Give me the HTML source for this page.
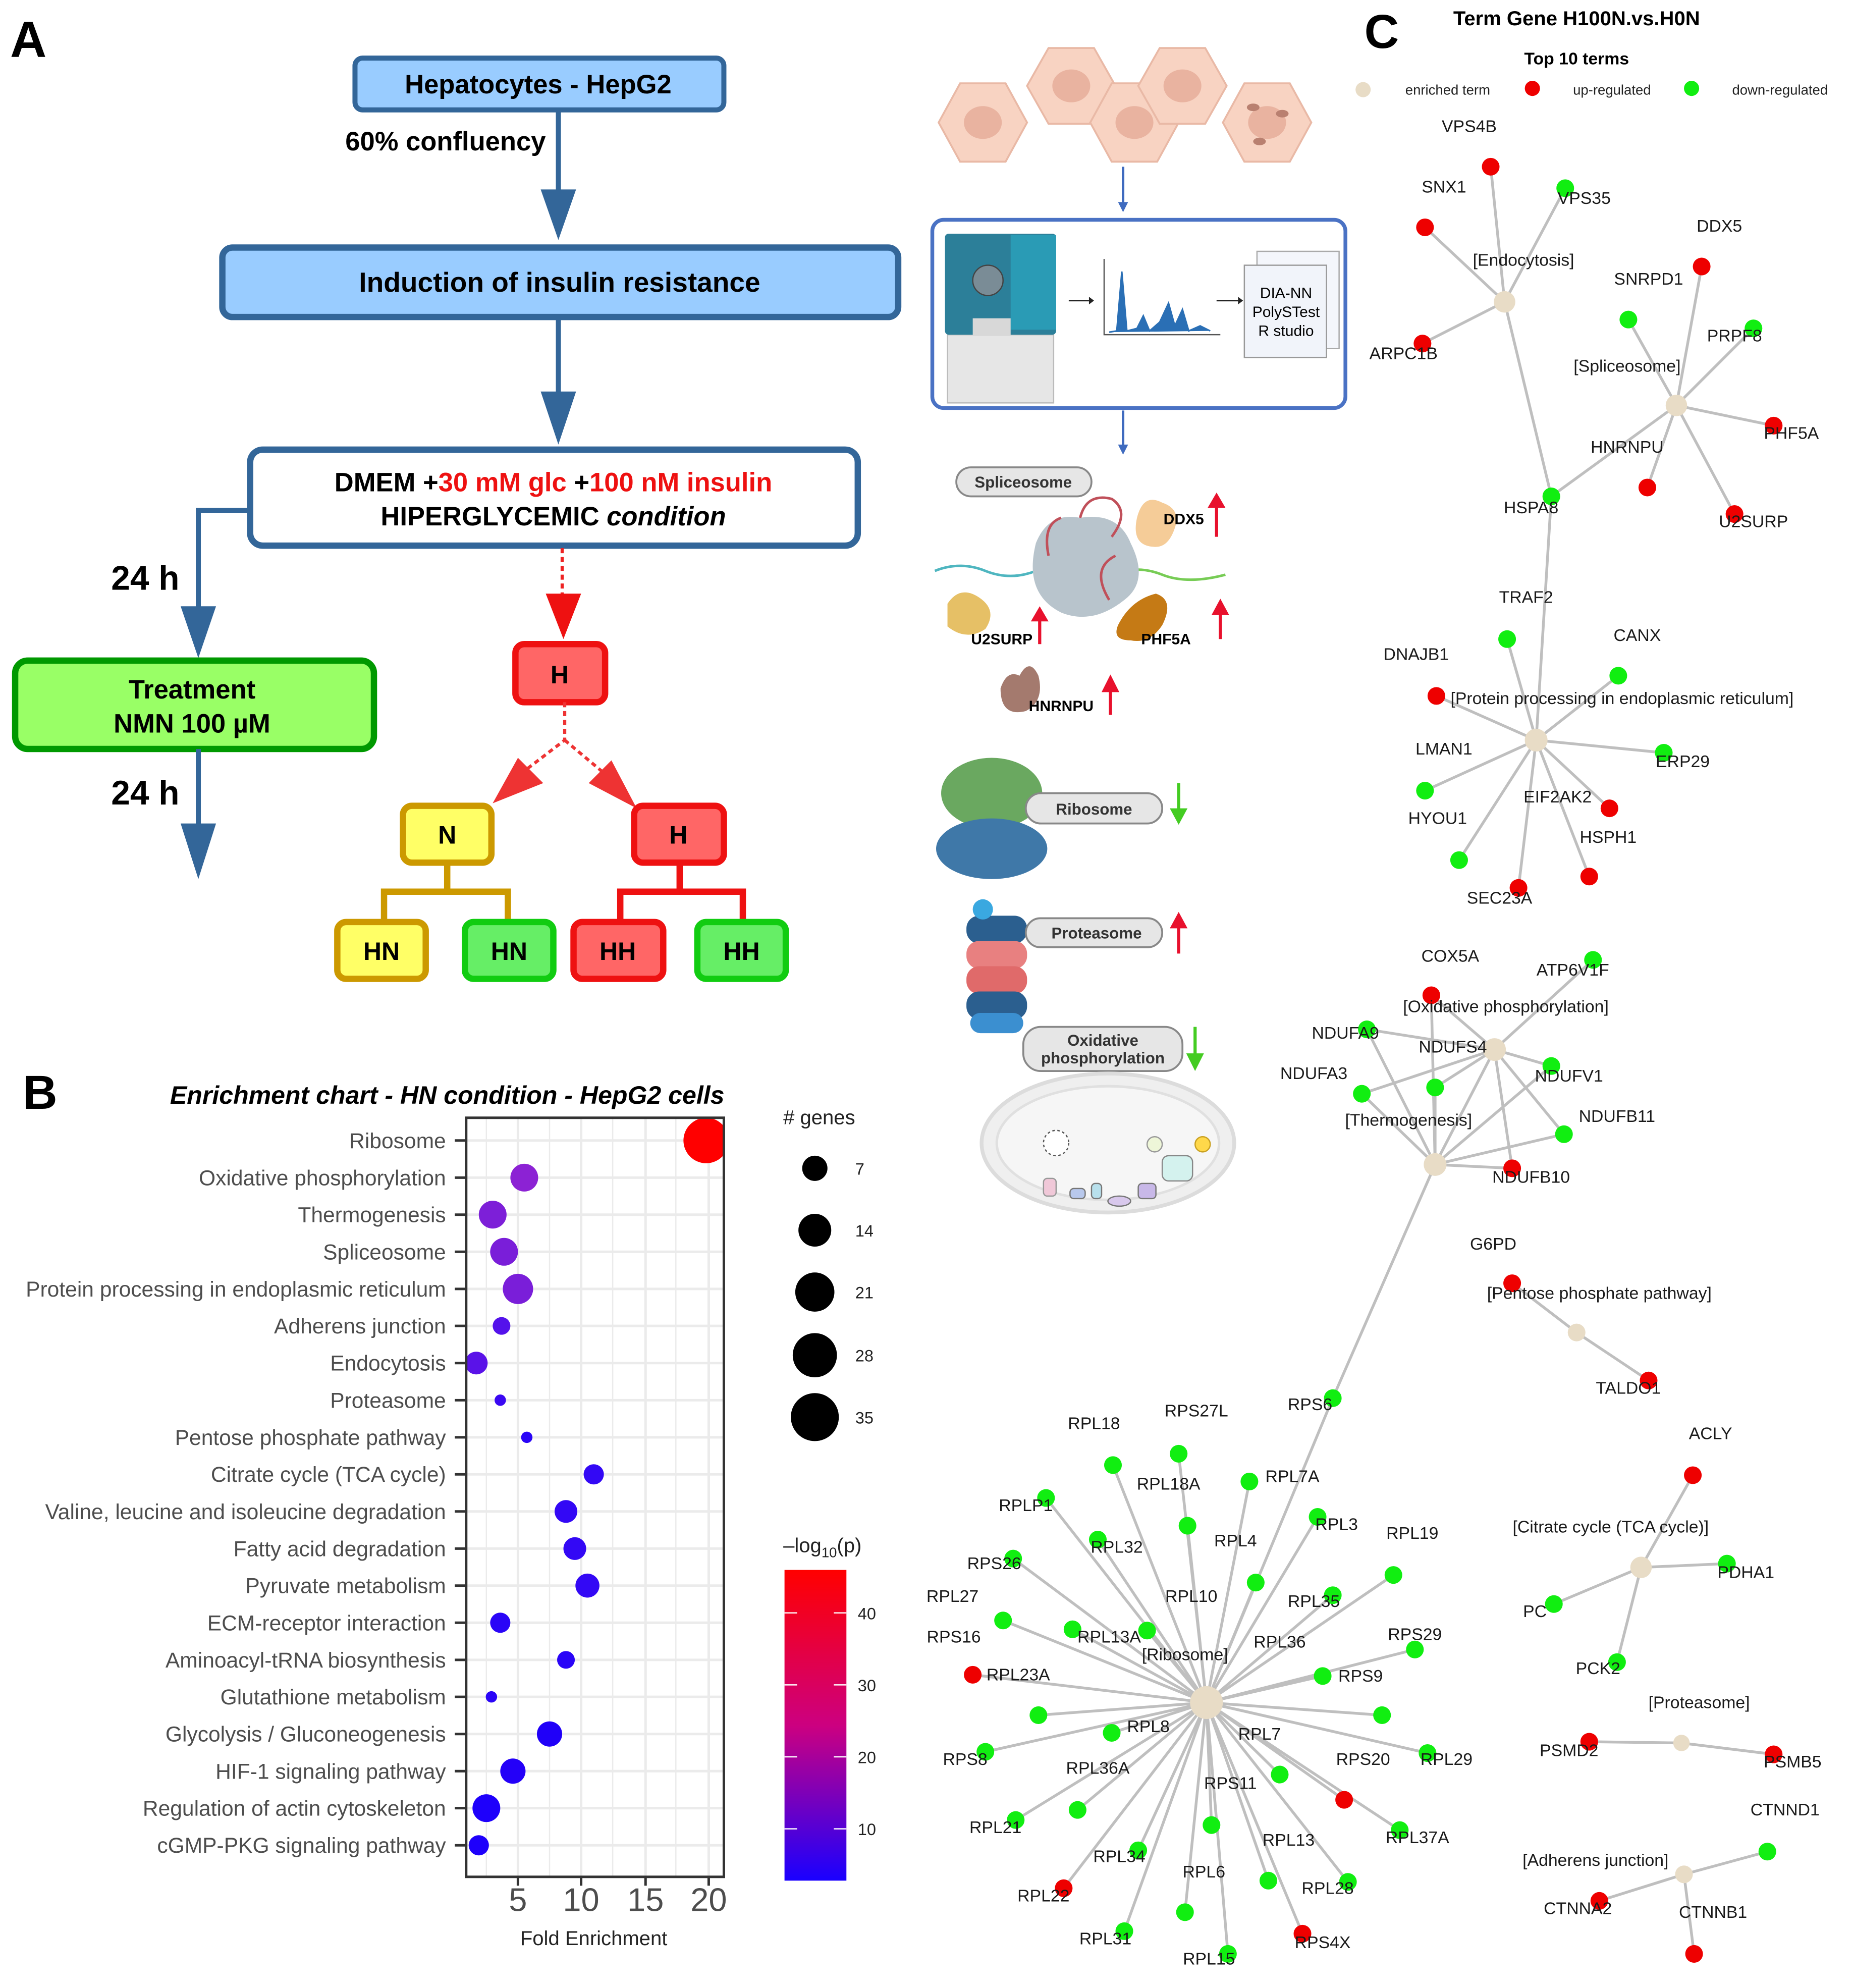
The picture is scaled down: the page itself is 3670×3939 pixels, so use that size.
<!DOCTYPE html>
<html><head><meta charset="utf-8"><style>
html,body{margin:0;padding:0;background:#fff}
svg{display:block}
text{font-family:"Liberation Sans",Arial,sans-serif}
</style></head><body>
<svg width="3670" height="3939" viewBox="0 0 1466 1574" preserveAspectRatio="none" xmlns="http://www.w3.org/2000/svg">
<defs>
<linearGradient id="cb" x1="0" y1="0" x2="0" y2="1">
<stop offset="0" stop-color="#ff0000"/><stop offset="0.5" stop-color="#cc0080"/><stop offset="1" stop-color="#1a00ff"/>
</linearGradient>
</defs>
<rect width="1466" height="1574" fill="#fff"/>

<!-- ===== PANEL A ===== -->
<text x="8" y="45" font-size="40" font-weight="bold">A</text>
<rect x="281" y="46" width="292" height="41" rx="6" fill="#99ccff" stroke="#336699" stroke-width="4"/>
<text x="426" y="74" font-size="21" font-weight="bold" text-anchor="middle">Hepatocytes - HepG2</text>
<text x="432" y="119" font-size="21" font-weight="bold" text-anchor="end">60%  confluency</text>
<line x1="442" y1="87" x2="442" y2="152" stroke="#336699" stroke-width="4"/>
<polygon points="428,150 456,150 442,190" fill="#336699"/>
<rect x="176" y="196" width="535" height="55" rx="8" fill="#99ccff" stroke="#336699" stroke-width="5"/>
<text x="443" y="231" font-size="22" font-weight="bold" text-anchor="middle">Induction of insulin resistance</text>
<line x1="442" y1="251" x2="442" y2="312" stroke="#336699" stroke-width="4"/>
<polygon points="428,310 456,310 442,352" fill="#336699"/>
<rect x="198" y="356" width="481" height="76" rx="10" fill="#fff" stroke="#336699" stroke-width="5"/>
<text x="438" y="389" font-size="21" font-weight="bold" text-anchor="middle">DMEM +<tspan fill="#ee1111">30 mM glc </tspan>+<tspan fill="#ee1111">100 nM insulin</tspan></text>
<text x="438" y="416" font-size="21" font-weight="bold" text-anchor="middle">HIPERGLYCEMIC <tspan font-style="italic">condition</tspan></text>
<polyline points="198,404 157,404 157,482" fill="none" stroke="#336699" stroke-width="4"/>
<polygon points="143,480 171,480 157,521" fill="#336699"/>
<text x="88" y="467" font-size="27" font-weight="bold">24 h</text>
<rect x="12" y="523" width="284" height="70" rx="10" fill="#99ff66" stroke="#009900" stroke-width="5"/>
<text x="152" y="553" font-size="21" font-weight="bold" text-anchor="middle">Treatment</text>
<text x="152" y="580" font-size="21" font-weight="bold" text-anchor="middle">NMN 100 µM</text>
<line x1="157" y1="593" x2="157" y2="655" stroke="#336699" stroke-width="4"/>
<polygon points="143,652 171,652 157,696" fill="#336699"/>
<text x="88" y="637" font-size="27" font-weight="bold">24 h</text>
<line x1="445" y1="434" x2="445" y2="472" stroke="#ee2222" stroke-width="2.5" stroke-dasharray="4,3"/>
<polygon points="432,470 460,470 446,506" fill="#ee1111"/>
<rect x="408" y="510" width="71" height="46" rx="7" fill="#ff6666" stroke="#ee1111" stroke-width="5"/>
<text x="443" y="541" font-size="20" font-weight="bold" text-anchor="middle">H</text>
<polyline points="447,556 447,586 413,612" fill="none" stroke="#ee3333" stroke-width="2.5" stroke-dasharray="4,3"/>
<polyline points="447,586 478,612" fill="none" stroke="#ee3333" stroke-width="2.5" stroke-dasharray="4,3"/>
<polygon points="390,636 410,600 430,620" fill="#ee3333"/>
<polygon points="504,640 466,620 484,602" fill="#ee3333"/>
<rect x="319" y="638" width="70" height="45" rx="7" fill="#ffff66" stroke="#cc9900" stroke-width="5"/>
<text x="354" y="668" font-size="20" font-weight="bold" text-anchor="middle">N</text>
<rect x="502" y="638" width="71" height="45" rx="7" fill="#ff6666" stroke="#ee1111" stroke-width="5"/>
<text x="537" y="668" font-size="20" font-weight="bold" text-anchor="middle">H</text>
<polyline points="354,683 354,706 304,706 304,730" fill="none" stroke="#cc9900" stroke-width="5"/>
<polyline points="354,706 402,706 402,730" fill="none" stroke="#cc9900" stroke-width="5"/>
<polyline points="538,683 538,706 491,706 491,730" fill="none" stroke="#ee1111" stroke-width="5"/>
<polyline points="538,706 588,706 588,730" fill="none" stroke="#ee1111" stroke-width="5"/>
<rect x="267" y="730" width="70" height="45" rx="7" fill="#ffff66" stroke="#cc9900" stroke-width="5"/>
<text x="302" y="760" font-size="20" font-weight="bold" text-anchor="middle">HN</text>
<rect x="368" y="730" width="70" height="45" rx="7" fill="#66ee66" stroke="#11cc11" stroke-width="5"/>
<text x="403" y="760" font-size="20" font-weight="bold" text-anchor="middle">HN</text>
<rect x="454" y="730" width="71" height="45" rx="7" fill="#ff6666" stroke="#ee1111" stroke-width="5"/>
<text x="489" y="760" font-size="20" font-weight="bold" text-anchor="middle">HH</text>
<rect x="552" y="730" width="70" height="45" rx="7" fill="#66ee66" stroke="#11cc11" stroke-width="5"/>
<text x="587" y="760" font-size="20" font-weight="bold" text-anchor="middle">HH</text>

<!-- ===== MIDDLE ILLUSTRATIONS ===== -->
<g fill="#f8d3c2" stroke="#e9b9a6" stroke-width="1.5">
<polygon points="760,66 796,66 813,97 796,128 760,128 743,97"/>
<polygon points="830,38 866,38 883,68 866,98 830,98 813,68"/>
<polygon points="880,66 916,66 933,97 916,128 880,128 863,97"/>
<polygon points="918,38 954,38 971,68 954,98 918,98 901,68"/>
<polygon points="985,66 1021,66 1038,97 1021,128 985,128 968,97"/>
</g>
<g fill="#e9b3a0">
<ellipse cx="778" cy="97" rx="15" ry="13"/><ellipse cx="848" cy="68" rx="15" ry="13"/>
<ellipse cx="898" cy="97" rx="15" ry="13"/><ellipse cx="936" cy="68" rx="15" ry="13"/>
<ellipse cx="1003" cy="97" rx="15" ry="13"/>
</g>
<g fill="#b98070"><ellipse cx="992" cy="85" rx="5" ry="3"/><ellipse cx="1015" cy="90" rx="5" ry="3"/><ellipse cx="997" cy="112" rx="5" ry="3"/></g>
<line x1="889" y1="132" x2="889" y2="164" stroke="#3f6bbf" stroke-width="2"/>
<polygon points="885,160 893,160 889,168" fill="#3f6bbf"/>
<rect x="738" y="174" width="327" height="149" rx="9" fill="#fff" stroke="#4a72c4" stroke-width="3"/>
<rect x="750" y="265" width="84" height="54" fill="#e6e6e6" stroke="#bbb"/>
<rect x="748" y="185" width="88" height="80" rx="3" fill="#2c7f99"/>
<rect x="800" y="186" width="36" height="75" fill="#2a9bb5"/>
<circle cx="782" cy="222" r="12" fill="#7a8c96" stroke="#444"/>
<rect x="770" y="252" width="30" height="14" fill="#d8d8d8"/>
<polyline points="874,205 874,265 966,265" fill="none" stroke="#555" stroke-width="1"/>
<polyline points="878,263 884,262 888,215 892,262 900,260 905,250 910,262 918,255 925,240 930,258 936,245 941,262 950,258 958,262" fill="#2a6fb5" stroke="#2a6fb5" stroke-width="1.2"/>
<line x1="846" y1="238" x2="862" y2="238" stroke="#222" stroke-width="1.2"/>
<polygon points="862,235 866,238 862,241" fill="#222"/>
<line x1="963" y1="238" x2="980" y2="238" stroke="#222" stroke-width="1.2"/>
<polygon points="980,235 984,238 980,241" fill="#222"/>
<rect x="995" y="199" width="65" height="77" fill="#f4f6fb" stroke="#aaa"/>
<rect x="985" y="210" width="65" height="73" fill="#f1f4fa" stroke="#999"/>
<text x="1018" y="236" font-size="12" text-anchor="middle">DIA-NN</text>
<text x="1018" y="251" font-size="12" text-anchor="middle">PolySTest</text>
<text x="1018" y="266" font-size="12" text-anchor="middle">R studio</text>
<line x1="889" y1="325" x2="889" y2="355" stroke="#3f6bbf" stroke-width="2"/>
<polygon points="885,352 893,352 889,360" fill="#3f6bbf"/>

<rect x="757" y="370" width="107" height="23" rx="11.5" fill="#e6e6e6" stroke="#888" stroke-width="1.5"/>
<text x="810" y="386" font-size="12.5" font-weight="bold" fill="#333" text-anchor="middle">Spliceosome</text>
<path d="M740,452 q20,-8 40,0 t40,0 t40,0" fill="none" stroke="#4fb6c0" stroke-width="2"/>
<path d="M880,455 q20,-8 40,0 t50,0" fill="none" stroke="#77cc55" stroke-width="2"/>
<path d="M820,430 q10,-25 35,-20 q30,-5 40,20 q15,30 -5,45 q-25,20 -50,10 q-30,-15 -20,-55z" fill="#b8c4cc"/>
<path d="M830,440 q-5,-25 10,-30 M855,410 q5,-20 25,-15 q15,10 0,30 M883,440 q-20,10 -5,35" fill="none" stroke="#c0505a" stroke-width="2"/>
<path d="M900,410 q5,-20 20,-12 q15,5 10,20 q-5,15 -15,15 q-20,0 -15,-23z" fill="#f5cc98"/>
<path d="M750,478 q10,-15 25,-5 q15,10 5,25 q-15,10 -30,-2z" fill="#e6c066"/>
<path d="M885,495 q10,-20 30,-25 q15,5 5,25 q-10,15 -25,12 q-15,0 -10,-12z" fill="#c57a15"/>
<path d="M792,545 q5,-15 15,-10 q8,-15 15,0 q5,20 -10,28 q-20,5 -20,-18z" fill="#a47a6e"/>
<text x="937" y="415" font-size="12" font-weight="bold" text-anchor="middle">DDX5</text>
<text x="793" y="510" font-size="12" font-weight="bold" text-anchor="middle">U2SURP</text>
<text x="923" y="510" font-size="12" font-weight="bold" text-anchor="middle">PHF5A</text>
<text x="840" y="563" font-size="12" font-weight="bold" text-anchor="middle">HNRNPU</text>
<g stroke="#e8112d" stroke-width="2.5" fill="#e8112d">
<line x1="963" y1="425" x2="963" y2="400"/><polygon points="956,402 970,402 963,390" stroke="none"/>
<line x1="823" y1="510" x2="823" y2="490"/><polygon points="816,492 830,492 823,480" stroke="none"/>
<line x1="966" y1="506" x2="966" y2="485"/><polygon points="959,487 973,487 966,474" stroke="none"/>
<line x1="879" y1="566" x2="879" y2="546"/><polygon points="872,548 886,548 879,534" stroke="none"/>
</g>
<ellipse cx="785" cy="628" rx="40" ry="28" fill="#6aa860"/>
<ellipse cx="785" cy="672" rx="44" ry="24" fill="#3f78a8"/>
<rect x="812" y="628" width="108" height="24" rx="12" fill="#e6e6e6" stroke="#888" stroke-width="1.5"/>
<text x="866" y="645" font-size="12.5" font-weight="bold" fill="#333" text-anchor="middle">Ribosome</text>
<line x1="933" y1="620" x2="933" y2="643" stroke="#44cc22" stroke-width="2.5"/><polygon points="926,640 940,640 933,653" fill="#44cc22"/>
<g>
<rect x="765" y="725" width="48" height="22" rx="10" fill="#2b5f8f"/>
<rect x="765" y="745" width="48" height="22" rx="10" fill="#e88080"/>
<rect x="765" y="765" width="48" height="22" rx="10" fill="#e06a6a"/>
<rect x="765" y="785" width="48" height="22" rx="10" fill="#2b5f8f"/>
<rect x="768" y="802" width="42" height="16" rx="8" fill="#3b8fd0"/>
<circle cx="778" cy="720" r="8" fill="#3aa8e0"/>
</g>
<rect x="812" y="727" width="108" height="23" rx="11.5" fill="#e6e6e6" stroke="#888" stroke-width="1.5"/>
<text x="868" y="743" font-size="12.5" font-weight="bold" fill="#333" text-anchor="middle">Proteasome</text>
<line x1="933" y1="755" x2="933" y2="733" stroke="#e8112d" stroke-width="2.5"/><polygon points="926,735 940,735 933,722" fill="#e8112d"/>
<rect x="810" y="813" width="126" height="35" rx="14" fill="#e6e6e6" stroke="#888" stroke-width="1.5"/>
<text x="873" y="828" font-size="12.5" font-weight="bold" fill="#333" text-anchor="middle">Oxidative</text>
<text x="873" y="842" font-size="12.5" font-weight="bold" fill="#333" text-anchor="middle">phosphorylation</text>
<line x1="946" y1="813" x2="946" y2="837" stroke="#44cc22" stroke-width="2.5"/><polygon points="939,834 953,834 946,848" fill="#44cc22"/>
<ellipse cx="877" cy="905" rx="100" ry="55" fill="#efefef" stroke="#dcdcdc" stroke-width="3"/>
<ellipse cx="877" cy="905" rx="88" ry="45" fill="#f6f6f6" stroke="#e0e0e0" stroke-width="2"/>
<circle cx="836" cy="905" r="10" fill="#fff" stroke="#555" stroke-dasharray="2,2"/>
<circle cx="914" cy="906" r="6" fill="#eef6d8" stroke="#999"/>
<circle cx="952" cy="906" r="6" fill="#ffd84a" stroke="#c9a020"/>
<rect x="920" y="915" width="24" height="20" rx="5" fill="#d4f2ee" stroke="#888"/>
<rect x="826" y="933" width="10" height="14" rx="3" fill="#f0c8d8" stroke="#999"/>
<rect x="847" y="941" width="12" height="8" rx="3" fill="#b8c8ec" stroke="#777"/>
<rect x="864" y="937" width="8" height="12" rx="3" fill="#b8e0ec" stroke="#777"/>
<ellipse cx="886" cy="951" rx="9" ry="4" fill="#d8c8ec" stroke="#777"/>
<rect x="901" y="937" width="14" height="12" rx="3" fill="#c8b8e8" stroke="#777"/>

<!-- ===== PANEL B ===== -->
<text x="18" y="878" font-size="38" font-weight="bold">B</text>
<text x="354" y="874" font-size="20" font-weight="bold" font-style="italic" text-anchor="middle">Enrichment chart - HN condition - HepG2 cells</text>
<g stroke="#ebebeb" stroke-width="1">
<line x1="385" y1="885" x2="385" y2="1486"/><line x1="435" y1="885" x2="435" y2="1486"/><line x1="485" y1="885" x2="485" y2="1486"/><line x1="535" y1="885" x2="535" y2="1486"/>
</g>
<g stroke="#ebebeb" stroke-width="2">
<line x1="410" y1="885" x2="410" y2="1486"/><line x1="460" y1="885" x2="460" y2="1486"/><line x1="511" y1="885" x2="511" y2="1486"/><line x1="561" y1="885" x2="561" y2="1486"/>
</g>
<g stroke="#ebebeb" stroke-width="2">
<line x1="369" y1="903" x2="573" y2="903"/><line x1="369" y1="932.4" x2="573" y2="932.4"/><line x1="369" y1="961.7" x2="573" y2="961.7"/><line x1="369" y1="991.1" x2="573" y2="991.1"/><line x1="369" y1="1020.5" x2="573" y2="1020.5"/><line x1="369" y1="1049.8" x2="573" y2="1049.8"/><line x1="369" y1="1079.2" x2="573" y2="1079.2"/><line x1="369" y1="1108.6" x2="573" y2="1108.6"/><line x1="369" y1="1138" x2="573" y2="1138"/><line x1="369" y1="1167.3" x2="573" y2="1167.3"/><line x1="369" y1="1196.7" x2="573" y2="1196.7"/><line x1="369" y1="1226.1" x2="573" y2="1226.1"/><line x1="369" y1="1255.4" x2="573" y2="1255.4"/><line x1="369" y1="1284.8" x2="573" y2="1284.8"/><line x1="369" y1="1314.2" x2="573" y2="1314.2"/><line x1="369" y1="1343.5" x2="573" y2="1343.5"/><line x1="369" y1="1372.9" x2="573" y2="1372.9"/><line x1="369" y1="1402.3" x2="573" y2="1402.3"/><line x1="369" y1="1431.6" x2="573" y2="1431.6"/><line x1="369" y1="1461" x2="573" y2="1461"/>
</g>
<g font-size="17" fill="#4d4d4d" text-anchor="end">
<text x="353" y="909">Ribosome</text><text x="353" y="938.4">Oxidative phosphorylation</text><text x="353" y="967.7">Thermogenesis</text><text x="353" y="997.1">Spliceosome</text><text x="353" y="1026.5">Protein processing in endoplasmic reticulum</text><text x="353" y="1055.8">Adherens junction</text><text x="353" y="1085.2">Endocytosis</text><text x="353" y="1114.6">Proteasome</text><text x="353" y="1144">Pentose phosphate pathway</text><text x="353" y="1173.3">Citrate cycle (TCA cycle)</text><text x="353" y="1202.7">Valine, leucine and isoleucine degradation</text><text x="353" y="1232.1">Fatty acid degradation</text><text x="353" y="1261.4">Pyruvate metabolism</text><text x="353" y="1290.8">ECM-receptor interaction</text><text x="353" y="1320.2">Aminoacyl-tRNA biosynthesis</text><text x="353" y="1349.5">Glutathione metabolism</text><text x="353" y="1378.9">Glycolysis / Gluconeogenesis</text><text x="353" y="1408.3">HIF-1 signaling pathway</text><text x="353" y="1437.6">Regulation of actin cytoskeleton</text><text x="353" y="1467">cGMP-PKG signaling pathway</text>
</g>
<g stroke="#333" stroke-width="2">
<line x1="360" y1="903" x2="369" y2="903"/><line x1="360" y1="932.4" x2="369" y2="932.4"/><line x1="360" y1="961.7" x2="369" y2="961.7"/><line x1="360" y1="991.1" x2="369" y2="991.1"/><line x1="360" y1="1020.5" x2="369" y2="1020.5"/><line x1="360" y1="1049.8" x2="369" y2="1049.8"/><line x1="360" y1="1079.2" x2="369" y2="1079.2"/><line x1="360" y1="1108.6" x2="369" y2="1108.6"/><line x1="360" y1="1138" x2="369" y2="1138"/><line x1="360" y1="1167.3" x2="369" y2="1167.3"/><line x1="360" y1="1196.7" x2="369" y2="1196.7"/><line x1="360" y1="1226.1" x2="369" y2="1226.1"/><line x1="360" y1="1255.4" x2="369" y2="1255.4"/><line x1="360" y1="1284.8" x2="369" y2="1284.8"/><line x1="360" y1="1314.2" x2="369" y2="1314.2"/><line x1="360" y1="1343.5" x2="369" y2="1343.5"/><line x1="360" y1="1372.9" x2="369" y2="1372.9"/><line x1="360" y1="1402.3" x2="369" y2="1402.3"/><line x1="360" y1="1431.6" x2="369" y2="1431.6"/><line x1="360" y1="1461" x2="369" y2="1461"/>
<line x1="410" y1="1486" x2="410" y2="1493"/><line x1="460" y1="1486" x2="460" y2="1493"/><line x1="511" y1="1486" x2="511" y2="1493"/><line x1="561" y1="1486" x2="561" y2="1493"/>
</g>
<clipPath id="pc"><rect x="369" y="885" width="204" height="601"/></clipPath>
<g clip-path="url(#pc)">
<circle cx="559" cy="903" r="18" fill="#ff0000"/>
<circle cx="415" cy="932.4" r="11" fill="#8c22d4"/>
<circle cx="390" cy="961.7" r="11" fill="#7d1fd8"/>
<circle cx="399" cy="991.1" r="11" fill="#7a1ed9"/>
<circle cx="410" cy="1020.5" r="12" fill="#7a1ed9"/>
<circle cx="397" cy="1049.8" r="7" fill="#5412eb"/>
<circle cx="377" cy="1079.2" r="9" fill="#5a12e8"/>
<circle cx="396" cy="1108.6" r="4.5" fill="#3a08f2"/>
<circle cx="417" cy="1138" r="4.5" fill="#2a05f7"/>
<circle cx="470" cy="1167.3" r="8" fill="#3308f5"/>
<circle cx="448" cy="1196.7" r="9" fill="#3308f5"/>
<circle cx="455" cy="1226.1" r="9" fill="#3308f5"/>
<circle cx="465" cy="1255.4" r="9.5" fill="#3308f5"/>
<circle cx="396" cy="1284.8" r="8" fill="#2a05f7"/>
<circle cx="448" cy="1314.2" r="7" fill="#2a05f7"/>
<circle cx="389" cy="1343.5" r="4.5" fill="#2a05f7"/>
<circle cx="435" cy="1372.9" r="10" fill="#2000f8"/>
<circle cx="406" cy="1402.3" r="10" fill="#2400f8"/>
<circle cx="385" cy="1431.6" r="11" fill="#1e00fb"/>
<circle cx="379" cy="1461" r="8" fill="#1e00fb"/>
</g>
<rect x="369" y="885" width="204" height="601" fill="none" stroke="#333" stroke-width="2"/>
<g font-size="26" fill="#4d4d4d" text-anchor="middle">
<text x="410" y="1513">5</text><text x="460" y="1513">10</text><text x="511" y="1513">15</text><text x="561" y="1513">20</text>
</g>
<text x="470" y="1540" font-size="16" fill="#222" text-anchor="middle">Fold Enrichment</text>
<text x="620" y="890" font-size="16" fill="#222"># genes</text>
<circle cx="645" cy="925" r="10" fill="#000"/><circle cx="645" cy="974" r="13" fill="#000"/><circle cx="645" cy="1023" r="15.5" fill="#000"/><circle cx="645" cy="1073" r="17.5" fill="#000"/><circle cx="645" cy="1122" r="19" fill="#000"/>
<g font-size="13" fill="#222"><text x="677" y="930">7</text><text x="677" y="979">14</text><text x="677" y="1028">21</text><text x="677" y="1078">28</text><text x="677" y="1127">35</text></g>
<text x="620" y="1229" font-size="16" fill="#222">–log<tspan font-size="11" dy="4">10</tspan><tspan dy="-4">(p)</tspan></text>
<rect x="621" y="1243" width="49" height="246" fill="url(#cb)"/>
<g stroke="#fff" stroke-width="1"><line x1="621" y1="1277" x2="631" y2="1277"/><line x1="660" y1="1277" x2="670" y2="1277"/><line x1="621" y1="1334" x2="631" y2="1334"/><line x1="660" y1="1334" x2="670" y2="1334"/><line x1="621" y1="1391" x2="631" y2="1391"/><line x1="660" y1="1391" x2="670" y2="1391"/><line x1="621" y1="1448" x2="631" y2="1448"/><line x1="660" y1="1448" x2="670" y2="1448"/></g>
<g font-size="13" fill="#222"><text x="679" y="1282">40</text><text x="679" y="1339">30</text><text x="679" y="1396">20</text><text x="679" y="1453">10</text></g>

<!-- ===== PANEL C ===== -->
<text x="1080" y="38" font-size="38" font-weight="bold">C</text>
<text x="1248" y="20" font-size="16" font-weight="bold" text-anchor="middle">Term Gene  H100N.vs.H0N</text>
<text x="1248" y="51" font-size="13.5" font-weight="bold" text-anchor="middle">Top 10 terms</text>
<circle cx="1079" cy="71" r="6" fill="#e8dcc6"/><text x="1146" y="75" font-size="11" text-anchor="middle" fill="#222">enriched term</text>
<circle cx="1213" cy="70" r="6" fill="#ee0000"/><text x="1276" y="75" font-size="11" text-anchor="middle" fill="#222">up-regulated</text>
<circle cx="1339" cy="70" r="6" fill="#11ee11"/><text x="1409" y="75" font-size="11" text-anchor="middle" fill="#222">down-regulated</text>

<g stroke="#bfbfbf" stroke-width="2.2" fill="none">
<line x1="1191" y1="239" x2="1180" y2="132"/><line x1="1191" y1="239" x2="1128" y2="180"/><line x1="1191" y1="239" x2="1239" y2="149"/><line x1="1191" y1="239" x2="1126" y2="272"/><line x1="1191" y1="239" x2="1228" y2="393"/>
<line x1="1327" y1="321" x2="1347" y2="211"/><line x1="1327" y1="321" x2="1289" y2="253"/><line x1="1327" y1="321" x2="1388" y2="260"/><line x1="1327" y1="321" x2="1404" y2="337"/><line x1="1327" y1="321" x2="1373" y2="407"/><line x1="1327" y1="321" x2="1304" y2="386"/><line x1="1327" y1="321" x2="1228" y2="393"/>
<line x1="1228" y1="393" x2="1216" y2="586"/>
<line x1="1216" y1="586" x2="1193" y2="506"/><line x1="1216" y1="586" x2="1281" y2="535"/><line x1="1216" y1="586" x2="1137" y2="551"/><line x1="1216" y1="586" x2="1317" y2="596"/><line x1="1216" y1="586" x2="1128" y2="626"/><line x1="1216" y1="586" x2="1155" y2="681"/><line x1="1216" y1="586" x2="1202" y2="703"/><line x1="1216" y1="586" x2="1258" y2="694"/><line x1="1216" y1="586" x2="1274" y2="640"/>
<line x1="1183" y1="831" x2="1133" y2="788"/><line x1="1183" y1="831" x2="1261" y2="760"/><line x1="1183" y1="831" x2="1082" y2="815"/><line x1="1183" y1="831" x2="1078" y2="866"/><line x1="1183" y1="831" x2="1136" y2="861"/><line x1="1183" y1="831" x2="1228" y2="844"/><line x1="1183" y1="831" x2="1238" y2="898"/><line x1="1183" y1="831" x2="1197" y2="925"/>
<line x1="1136" y1="922" x2="1133" y2="788"/><line x1="1136" y1="922" x2="1082" y2="815"/><line x1="1136" y1="922" x2="1078" y2="866"/><line x1="1136" y1="922" x2="1136" y2="861"/><line x1="1136" y1="922" x2="1228" y2="844"/><line x1="1136" y1="922" x2="1238" y2="898"/><line x1="1136" y1="922" x2="1197" y2="925"/><line x1="1136" y1="922" x2="1183" y2="831"/>
<line x1="1136" y1="922" x2="1055" y2="1107"/>
<line x1="1248" y1="1055" x2="1197" y2="1016"/><line x1="1248" y1="1055" x2="1305" y2="1093"/>
<g>
<line x1="955" y1="1348" x2="1055" y2="1107"/><line x1="955" y1="1348" x2="881" y2="1160"/><line x1="955" y1="1348" x2="933" y2="1151"/><line x1="955" y1="1348" x2="940" y2="1208"/><line x1="955" y1="1348" x2="989" y2="1173"/><line x1="955" y1="1348" x2="828" y2="1186"/><line x1="955" y1="1348" x2="869" y2="1219"/><line x1="955" y1="1348" x2="994" y2="1253"/><line x1="955" y1="1348" x2="1043" y2="1201"/><line x1="955" y1="1348" x2="1103" y2="1247"/><line x1="955" y1="1348" x2="802" y2="1234"/><line x1="955" y1="1348" x2="794" y2="1283"/><line x1="955" y1="1348" x2="908" y2="1291"/><line x1="955" y1="1348" x2="1055" y2="1263"/><line x1="955" y1="1348" x2="849" y2="1290"/><line x1="955" y1="1348" x2="1120" y2="1306"/><line x1="955" y1="1348" x2="1047" y2="1327"/><line x1="955" y1="1348" x2="770" y2="1326"/><line x1="955" y1="1348" x2="822" y2="1358"/><line x1="955" y1="1348" x2="1094" y2="1358"/><line x1="955" y1="1348" x2="880" y2="1372"/><line x1="955" y1="1348" x2="780" y2="1387"/><line x1="955" y1="1348" x2="1130" y2="1388"/><line x1="955" y1="1348" x2="1013" y2="1405"/><line x1="955" y1="1348" x2="1064" y2="1425"/><line x1="955" y1="1348" x2="853" y2="1433"/><line x1="955" y1="1348" x2="959" y2="1445"/><line x1="955" y1="1348" x2="804" y2="1441"/><line x1="955" y1="1348" x2="1108" y2="1449"/><line x1="955" y1="1348" x2="901" y2="1465"/><line x1="955" y1="1348" x2="1004" y2="1489"/><line x1="955" y1="1348" x2="1067" y2="1490"/><line x1="955" y1="1348" x2="842" y2="1495"/><line x1="955" y1="1348" x2="938" y2="1514"/><line x1="955" y1="1348" x2="890" y2="1529"/><line x1="955" y1="1348" x2="1031" y2="1531"/><line x1="955" y1="1348" x2="972" y2="1547"/>
</g>
<line x1="1299" y1="1241" x2="1340" y2="1168"/><line x1="1299" y1="1241" x2="1367" y2="1238"/><line x1="1299" y1="1241" x2="1230" y2="1270"/><line x1="1299" y1="1241" x2="1280" y2="1316"/>
<line x1="1331" y1="1380" x2="1258" y2="1379"/><line x1="1331" y1="1380" x2="1404" y2="1389"/>
<line x1="1333" y1="1484" x2="1399" y2="1466"/><line x1="1333" y1="1484" x2="1266" y2="1505"/><line x1="1333" y1="1484" x2="1341" y2="1547"/>
</g>

<g fill="#e8dcc6">
<circle cx="1191" cy="239" r="8.5"/><circle cx="1327" cy="321" r="8.5"/><circle cx="1216" cy="586" r="9"/><circle cx="1183" cy="831" r="9"/><circle cx="1136" cy="922" r="9"/><circle cx="1248" cy="1055" r="7"/><circle cx="955" cy="1348" r="13"/><circle cx="1299" cy="1241" r="8.5"/><circle cx="1331" cy="1380" r="6.5"/><circle cx="1333" cy="1484" r="7"/>
</g>
<g fill="#ee0000">
<circle cx="1180" cy="132" r="7"/><circle cx="1128" cy="180" r="7"/><circle cx="1126" cy="272" r="7"/><circle cx="1347" cy="211" r="7"/><circle cx="1404" cy="337" r="7"/><circle cx="1373" cy="407" r="7"/><circle cx="1304" cy="386" r="7"/>
<circle cx="1137" cy="551" r="7"/><circle cx="1202" cy="703" r="7"/><circle cx="1258" cy="694" r="7"/><circle cx="1274" cy="640" r="7"/>
<circle cx="1133" cy="788" r="7"/><circle cx="1197" cy="925" r="7"/><circle cx="1197" cy="1016" r="7"/><circle cx="1305" cy="1093" r="7"/>
<circle cx="770" cy="1326" r="7"/><circle cx="1064" cy="1425" r="7"/><circle cx="842" cy="1495" r="7"/><circle cx="1031" cy="1531" r="7"/>
<circle cx="1340" cy="1168" r="7"/><circle cx="1258" cy="1379" r="7"/><circle cx="1404" cy="1389" r="7"/><circle cx="1266" cy="1505" r="7"/><circle cx="1341" cy="1547" r="7"/>
</g>
<g fill="#11ee11">
<circle cx="1239" cy="149" r="7"/><circle cx="1289" cy="253" r="7"/><circle cx="1388" cy="260" r="7"/><circle cx="1228" cy="393" r="7"/>
<circle cx="1193" cy="506" r="7"/><circle cx="1281" cy="535" r="7"/><circle cx="1317" cy="596" r="7"/><circle cx="1128" cy="626" r="7"/><circle cx="1155" cy="681" r="7"/>
<circle cx="1261" cy="760" r="7"/><circle cx="1082" cy="815" r="7"/><circle cx="1078" cy="866" r="7"/><circle cx="1136" cy="861" r="7"/><circle cx="1228" cy="844" r="7"/><circle cx="1238" cy="898" r="7"/>
<circle cx="1055" cy="1107" r="7"/><circle cx="881" cy="1160" r="7"/><circle cx="933" cy="1151" r="7"/><circle cx="940" cy="1208" r="7"/><circle cx="989" cy="1173" r="7"/><circle cx="828" cy="1186" r="7"/><circle cx="869" cy="1219" r="7"/><circle cx="994" cy="1253" r="7"/><circle cx="1043" cy="1201" r="7"/><circle cx="1103" cy="1247" r="7"/><circle cx="802" cy="1234" r="7"/><circle cx="794" cy="1283" r="7"/><circle cx="908" cy="1291" r="7"/><circle cx="1055" cy="1263" r="7"/><circle cx="849" cy="1290" r="7"/><circle cx="1120" cy="1306" r="7"/><circle cx="1047" cy="1327" r="7"/><circle cx="822" cy="1358" r="7"/><circle cx="1094" cy="1358" r="7"/><circle cx="880" cy="1372" r="7"/><circle cx="780" cy="1387" r="7"/><circle cx="1130" cy="1388" r="7"/><circle cx="1013" cy="1405" r="7"/><circle cx="853" cy="1433" r="7"/><circle cx="959" cy="1445" r="7"/><circle cx="804" cy="1441" r="7"/><circle cx="1108" cy="1449" r="7"/><circle cx="901" cy="1465" r="7"/><circle cx="1004" cy="1489" r="7"/><circle cx="1067" cy="1490" r="7"/><circle cx="938" cy="1514" r="7"/><circle cx="890" cy="1529" r="7"/><circle cx="972" cy="1547" r="7"/>
<circle cx="1367" cy="1238" r="7"/><circle cx="1230" cy="1270" r="7"/><circle cx="1280" cy="1316" r="7"/><circle cx="1399" cy="1466" r="7"/>
</g>

<g font-size="13.5" fill="#1a1a1a" text-anchor="middle" dominant-baseline="central">
<text x="1163" y="100">VPS4B</text><text x="1143" y="148">SNX1</text><text x="1254" y="157">VPS35</text><text x="1206" y="206">[Endocytosis]</text><text x="1111" y="280">ARPC1B</text>
<text x="1361" y="179">DDX5</text><text x="1305" y="221">SNRPD1</text><text x="1373" y="266">PRPF8</text><text x="1288" y="290">[Spliceosome]</text><text x="1418" y="343">PHF5A</text><text x="1288" y="354">HNRNPU</text><text x="1388" y="413">U2SURP</text><text x="1212" y="402">HSPA8</text>
<text x="1208" y="473">TRAF2</text><text x="1296" y="503">CANX</text><text x="1121" y="518">DNAJB1</text><text x="1284" y="553">[Protein processing in endoplasmic reticulum]</text><text x="1143" y="593">LMAN1</text><text x="1332" y="603">ERP29</text><text x="1233" y="631">EIF2AK2</text><text x="1138" y="648">HYOU1</text><text x="1273" y="663">HSPH1</text><text x="1187" y="711">SEC23A</text>
<text x="1148" y="757">COX5A</text><text x="1245" y="768">ATP6V1F</text><text x="1192" y="797">[Oxidative phosphorylation]</text><text x="1065" y="818">NDUFA9</text><text x="1150" y="829">NDUFS4</text><text x="1040" y="850">NDUFA3</text><text x="1242" y="852">NDUFV1</text><text x="1280" y="884">NDUFB11</text><text x="1115" y="887">[Thermogenesis]</text><text x="1212" y="932">NDUFB10</text>
<text x="1182" y="985">G6PD</text><text x="1266" y="1024">[Pentose phosphate pathway]</text><text x="1289" y="1099">TALDO1</text>
<text x="1037" y="1112">RPS6</text><text x="866" y="1127">RPL18</text><text x="947" y="1117">RPS27L</text><text x="925" y="1175">RPL18A</text><text x="1023" y="1169">RPL7A</text><text x="812" y="1192">RPLP1</text><text x="884" y="1225">RPL32</text><text x="978" y="1220">RPL4</text><text x="1058" y="1207">RPL3</text><text x="1118" y="1214">RPL19</text><text x="787" y="1238">RPS26</text><text x="754" y="1264">RPL27</text><text x="943" y="1264">RPL10</text><text x="1040" y="1268">RPL35</text><text x="755" y="1296">RPS16</text><text x="878" y="1296">RPL13A</text><text x="1120" y="1294">RPS29</text><text x="1013" y="1300">RPL36</text><text x="938" y="1310">[Ribosome]</text><text x="1077" y="1327">RPS9</text><text x="806" y="1326">RPL23A</text><text x="909" y="1367">RPL8</text><text x="764" y="1393">RPS8</text><text x="997" y="1373">RPL7</text><text x="1145" y="1393">RPL29</text><text x="1079" y="1393">RPS20</text><text x="869" y="1400">RPL36A</text><text x="974" y="1412">RPS11</text><text x="788" y="1447">RPL21</text><text x="1122" y="1455">RPL37A</text><text x="1020" y="1457">RPL13</text><text x="886" y="1470">RPL34</text><text x="1051" y="1495">RPL28</text><text x="953" y="1482">RPL6</text><text x="826" y="1501">RPL22</text><text x="875" y="1535">RPL31</text><text x="1047" y="1538">RPS4X</text><text x="957" y="1551">RPL15</text>
<text x="1354" y="1135">ACLY</text><text x="1275" y="1209">[Citrate cycle (TCA cycle)]</text><text x="1382" y="1245">PDHA1</text><text x="1215" y="1276">PC</text><text x="1265" y="1321">PCK2</text>
<text x="1345" y="1348">[Proteasome]</text><text x="1242" y="1386">PSMD2</text><text x="1419" y="1395">PSMB5</text>
<text x="1413" y="1433">CTNND1</text><text x="1263" y="1473">[Adherens junction]</text><text x="1249" y="1511">CTNNA2</text><text x="1356" y="1514">CTNNB1</text>
</g>
</svg>
</body></html>
